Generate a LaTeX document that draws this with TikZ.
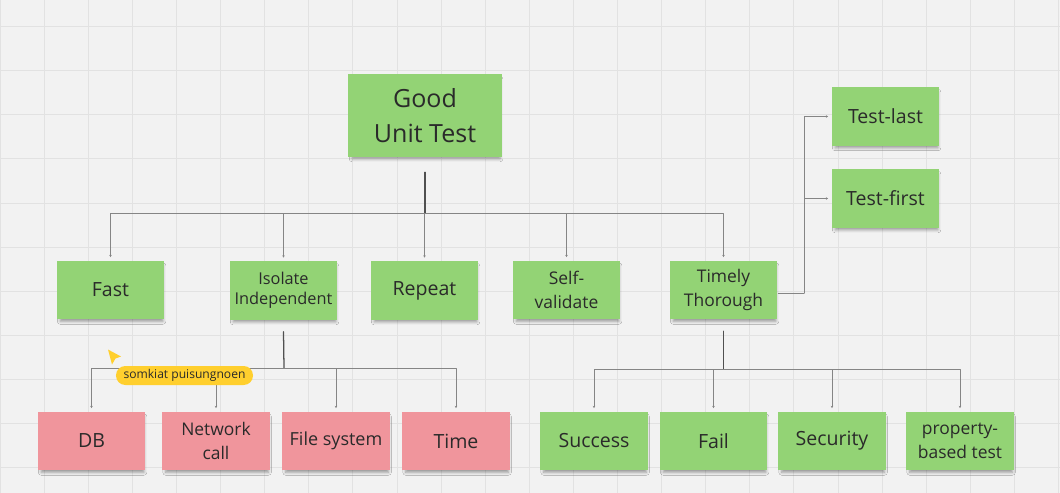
\documentclass[tikz,border=0pt]{standalone}
\usepackage{fontspec}
\setmainfont{Open Sans}
\usetikzlibrary{arrows.meta,shadows.blur}
\definecolor{boardbg}{HTML}{F2F2F2}
\definecolor{gridgray}{HTML}{E2E2E2}
\definecolor{notegreen}{HTML}{93D375}
\definecolor{notepink}{HTML}{F0959C}
\definecolor{notetext}{HTML}{2A2A2A}
\definecolor{linegray}{HTML}{858585}
\definecolor{stemgray}{HTML}{505050}
\definecolor{tagyellow}{HTML}{FFCF2E}
\newcommand{\titlefont}{\fontsize{17.8}{24.9}\selectfont}
\newcommand{\notefont}{\fontsize{13.9}{16}\selectfont}
\newcommand{\twofont}{\fontsize{12.4}{17}\selectfont}
\newcommand{\smallnotefont}{\fontsize{11.6}{14.5}\selectfont}
\tikzset{
	note/.style={rectangle, fill=notegreen, text=notetext, align=center, inner sep=1pt,
		minimum width=2.675cm, minimum height=1.45cm, font=\notefont,
		blur shadow={shadow xshift=0.8pt, shadow yshift=-2.6pt, shadow opacity=38, shadow scale=0.96}},
	pinknote/.style={note, fill=notepink},
	branch/.style={draw=linegray, line width=0.6pt, -{Stealth[length=1.6pt,width=1.8pt]}, shorten >=0.09cm},
	stem/.style={draw=stemgray, line width=0.9pt},
	tag/.style={rectangle, fill=tagyellow, rounded corners=0.235cm, minimum width=3.425cm, minimum height=0.475cm,
		inner sep=1pt, text=notetext, font=\fontsize{8.6}{10}\selectfont}
}
\begin{document}
\begin{tikzpicture}[x=0.025cm, y=-0.025cm, line join=round, line cap=round]
	% board
	\useasboundingbox (0,0) rectangle (1060,493);
	\fill[boardbg] (0,0) rectangle (1060,493);
	\foreach \gx in {0,44.1,...,1060}{
		\draw[gridgray, line width=0.5pt] (\gx,0) -- (\gx,493);}
	\foreach \gy in {26.5,70.6,...,493}{
		\draw[gridgray, line width=0.5pt] (0,\gy) -- (1060,\gy);}
	% root
	\node[note, font=\titlefont, minimum width=3.85cm, minimum height=2.075cm] (good) at (425,115.5) {Good\\Unit Test};
	% first level
	\node[note] (fast) at (110.5,290) {Fast};
	\node[note, font=\smallnotefont] (isolate) at (283.5,290.5) {Isolate\\Independent};
	\node[note] (repeat) at (424.5,290.5) {Repeat};
	\node[note, font=\twofont] (selfval) at (566.5,290) {Self-\\validate};
	\node[note, font=\twofont] (timely) at (723.5,290) {Timely\\Thorough};
	% test order
	\node[note] (testlast) at (885.5,116.5) {Test-last};
	\node[note] (testfirst) at (885.5,198.5) {Test-first};
	% dependencies
	\node[pinknote] (db) at (91.5,441) {DB};
	\node[pinknote, font=\twofont] (network) at (216,441) {Network\\call};
	\node[pinknote, font=\fontsize{12.8}{15}\selectfont] (filesys) at (336,441) {File system};
	\node[pinknote] (time) at (456,441) {Time};
	% cases
	\node[note] (success) at (594,441) {Success};
	\node[note] (fail) at (713.5,441) {Fail};
	\node[note] (security) at (832,441) {Security};
	\node[note, font=\twofont] (property) at (960,441) {property-\\based test};
	% connectors
	\coordinate (hubtop) at (425,213);
	\coordinate (hubiso) at (284,368);
	\coordinate (hubtim) at (723.5,369);
	\coordinate (hubord) at (804,293);
	\draw[stem] (good.south) ++(0,15) -- (hubtop);
	\foreach \n in {fast,isolate,repeat,selfval,timely}{
		\draw[branch] (hubtop) -| (\n.north);}
	\draw[stem] (isolate.south) ++(0,12) -- (hubiso);
	\foreach \n in {db,network,filesys,time}{
		\draw[branch] (hubiso) -| (\n.north);}
	\draw[stem] (timely.south) ++(0,12) -- (hubtim);
	\foreach \n in {success,fail,security,property}{
		\draw[branch] (hubtim) -| (\n.north);}
	\draw[linegray, line width=0.6pt] (timely.east) ++(1,3) -- (hubord);
	\draw[branch] (hubord) |- (testlast.west);
	\draw[branch] (hubord) |- (testfirst.west);
	% collaborator
	\node[tag] (owner) at (184.5,375.5) {somkiat puisungnoen};
	\fill[tagyellow] (108,349.5) -- (121,356.5) -- (115.5,358.5) -- (112,364.5) -- cycle;
\end{tikzpicture}
\end{document}
